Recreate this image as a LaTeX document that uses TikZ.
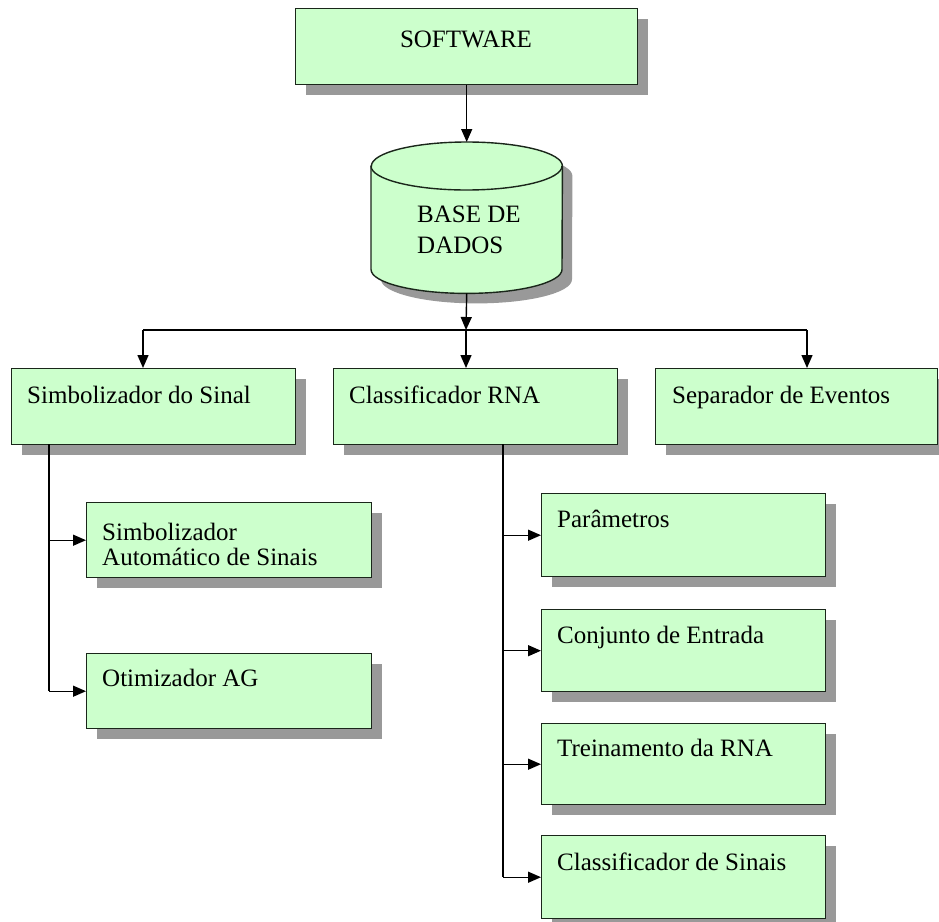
\documentclass[tikz,border=0pt]{standalone}
\usepackage{fontspec}
\setmainfont{Liberation Serif}
\usetikzlibrary{arrows.meta,shadows}
\definecolor{boxfill}{HTML}{CCFFCC}
\definecolor{shadowgray}{HTML}{999999}
\definecolor{edgecol}{HTML}{1A261A}

\begin{document}
\begin{tikzpicture}[x=1pt,y=-1pt,
  boxshadow/.style={drop shadow={shadow xshift=10pt, shadow yshift=-10pt, fill=shadowgray, opacity=1}},
  box/.style={rectangle, draw=edgecol, line width=1.4pt, fill=boxfill, anchor=north west,
              inner sep=0pt, boxshadow},
  lbl/.style={font=\fontsize{25}{24}\selectfont, anchor=base west, inner sep=0pt},
  link/.style={line width=1.4pt, draw=black},
  arr/.style={link, -{Triangle[length=13pt,width=11pt]}},
]
\useasboundingbox (0,0) rectangle (939,921);

% top level
\node[box, minimum width=342pt, minimum height=76pt] (soft) at (295,8) {};
\node[lbl, anchor=base] (softT) at (466,47) {SOFTWARE};

% database cylinder (frame node + drawn body)
\node[anchor=north west, minimum width=191pt, minimum height=151pt, inner sep=0pt] (db) at (371,142) {};
\path[fill=boxfill, draw=edgecol, line width=1.4pt, boxshadow]
  ([yshift=-24pt]db.north west) -- ([yshift=24pt]db.south west)
  arc[start angle=180, end angle=360, x radius=95.5pt, y radius=24pt]
  -- ([yshift=-24pt]db.north east)
  arc[start angle=0, end angle=180, x radius=95.5pt, y radius=24pt] -- cycle;
\draw[edgecol, line width=1.4pt] ([yshift=-24pt]db.north west)
  arc[start angle=180, end angle=360, x radius=95.5pt, y radius=24pt];
\node[lbl] (dbT) at (417,222) {\vtop{\baselineskip=31pt\hbox{BASE DE}\hbox{DADOS}}};

% second level
\node[box, minimum width=284pt, minimum height=76pt] (simb) at (11,368) {};
\node[box, minimum width=284pt, minimum height=76pt] (clas) at (333,368) {};
\node[box, minimum width=282pt, minimum height=76pt] (sep)  at (655,368) {};
\node[lbl] (simbT) at ([shift={(16,35)}]simb.north west) {Simbolizador do Sinal};
\node[lbl] (clasT) at ([shift={(16,35)}]clas.north west) {Classificador RNA};
\node[lbl] (sepT)  at ([shift={(17,35)}]sep.north west)  {Separador de Eventos};

% children of the signal symbolizer
\node[box, minimum width=285pt, minimum height=75pt] (auto) at (86,502) {};
\node[box, minimum width=285pt, minimum height=75pt] (otim) at (86,653) {};
\node[lbl] (autoT) at ([shift={(16,38)}]auto.north west)
  {\vtop{\baselineskip=25pt\hbox{Simbolizador}\hbox{Automático de Sinais}}};
\node[lbl] (otimT) at ([shift={(16,33)}]otim.north west) {Otimizador AG};

% children of the ANN classifier
\node[box, minimum width=284pt, minimum height=83pt] (par)  at (541,493) {};
\node[box, minimum width=284pt, minimum height=82pt] (conj) at (541,609) {};
\node[box, minimum width=284pt, minimum height=81pt] (trei) at (541,723) {};
\node[box, minimum width=284pt, minimum height=83pt] (csin) at (541,835) {};
\node[lbl] (parT)  at ([shift={(16,34)}]par.north west)  {Parâmetros};
\node[lbl] (conjT) at ([shift={(16,34)}]conj.north west) {Conjunto de Entrada};
\node[lbl] (treiT) at ([shift={(16,33)}]trei.north west) {Treinamento da RNA};
\node[lbl] (csinT) at ([shift={(16,35)}]csin.north west) {Classificador de Sinais};

% connectors
\coordinate (bus)  at (466,330);
\coordinate (busL) at (143,330);
\coordinate (busR) at (807,330);
\coordinate (trunkL) at (49,444);
\coordinate (trunkR) at (503,444);

\draw[arr] (soft.south) -- (db.north);
\draw[arr] (db.south) -- (bus);
\draw[link] (busL) -- (busR);
\draw[arr] (busL) -- (busL |- simb.north);
\draw[arr] (bus) -- (bus |- clas.north);
\draw[arr] (busR) -- (busR |- sep.north);

\draw[link] (trunkL) -- (trunkL |- otim.west);
\draw[arr] (trunkL |- auto.west) -- (auto.west);
\draw[arr] (trunkL |- otim.west) -- (otim.west);

\draw[link] (trunkR) -- (trunkR |- csin.west);
\draw[arr] (trunkR |- par.west) -- (par.west);
\draw[arr] (trunkR |- conj.west) -- (conj.west);
\draw[arr] (trunkR |- trei.west) -- (trei.west);
\draw[arr] (trunkR |- csin.west) -- (csin.west);
\end{tikzpicture}
\end{document}
